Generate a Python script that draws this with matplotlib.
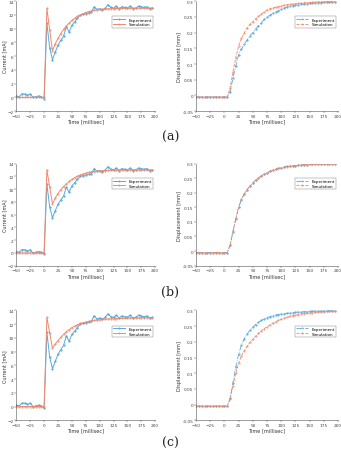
import matplotlib.pyplot as plt

# time samples [ms]
t = [-50, -45, -40, -35, -30, -25, -20, -15, -10, -5, 0, 5, 10, 15, 20, 25, 30, 35, 40, 45,
     50, 55, 60, 65, 70, 75, 80, 85, 90, 95, 100, 105, 110, 115, 120, 125, 130, 135, 140, 145,
     150, 155, 160, 165, 170, 175, 180, 185, 190, 195]

# measured current (same run in all three panels)
cur_exp = [0.2, 0.1, 0.5, 0.5, 0.3, 0.5, 0.0, 0.1, 0.2, 0.1, -0.2, 10.8, 7.2, 5.5, 6.6, 7.6, 8.3, 8.9, 10.3, 9.5,
           10.5, 11.0, 11.5, 12.0, 12.1, 12.2, 12.3, 12.4, 13.2, 12.8, 12.9, 12.7, 13.0, 13.5, 13.1, 13.0, 13.3, 12.9, 13.2, 13.1,
           13.0, 13.3, 12.9, 13.0, 13.3, 13.2, 13.1, 13.2, 12.9, 13.0]

cur_sim_a = [0, 0, 0, 0, 0, 0, 0, 0, 0, 0, 0, 13.0, 9.8, 6.8, 7.8, 8.6, 9.3, 9.9, 10.4, 10.8,
             11.2, 11.5, 11.8, 12.0, 12.2, 12.35, 12.5, 12.6, 12.7, 12.75, 12.8, 12.85, 12.88, 12.9, 12.92, 12.94, 12.95, 12.96, 12.97, 12.98,
             12.98, 12.99, 12.99, 13.0, 13.0, 13.0, 13.0, 13.0, 13.0, 13.0]
cur_sim_b = [0, 0, 0, 0, 0, 0, 0, 0, 0, 0, 0, 13.0, 10.3, 7.7, 8.6, 9.3, 9.9, 10.4, 10.8, 11.2,
             11.5, 11.8, 12.0, 12.2, 12.35, 12.5, 12.6, 12.7, 12.75, 12.8, 12.85, 12.88, 12.9, 12.92, 12.94, 12.95, 12.96, 12.97, 12.98, 12.98,
             12.99, 12.99, 13.0, 13.0, 13.0, 13.0, 13.0, 13.0, 13.0, 13.0]
cur_sim_c = [0, 0, 0, 0, 0, 0, 0, 0, 0, 0, 0, 13.0, 10.7, 8.5, 9.1, 9.6, 10.1, 10.5, 10.9, 11.2,
             11.5, 11.7, 11.9, 12.1, 12.2, 12.3, 12.4, 12.5, 12.55, 12.6, 12.65, 12.7, 12.73, 12.76, 12.78, 12.8, 12.82, 12.84, 12.86, 12.87,
             12.88, 12.89, 12.9, 12.91, 12.92, 12.93, 12.94, 12.95, 12.95, 12.96]

pre = [-0.005] * 11
disp_exp_a = pre + [-0.005, 0.012, 0.055, 0.095, 0.13, 0.148, 0.163, 0.177, 0.19,
                    0.20, 0.212, 0.222, 0.232, 0.242, 0.25, 0.255, 0.261, 0.266, 0.27, 0.274, 0.278, 0.281, 0.284, 0.286, 0.287,
                    0.289, 0.29, 0.291, 0.292, 0.293, 0.294, 0.295, 0.296, 0.296, 0.297, 0.297, 0.297, 0.298, 0.298]
disp_sim_a = pre + [-0.005, 0.025, 0.075, 0.12, 0.158, 0.182, 0.2, 0.215, 0.226,
                    0.235, 0.244, 0.252, 0.259, 0.266, 0.272, 0.276, 0.279, 0.281, 0.283, 0.285, 0.287, 0.289, 0.29, 0.291, 0.292,
                    0.293, 0.294, 0.295, 0.296, 0.296, 0.297, 0.297, 0.298, 0.298, 0.298, 0.299, 0.299, 0.299, 0.299]
disp_exp_b = pre + [-0.005, 0.02, 0.066, 0.11, 0.15, 0.176, 0.196, 0.211, 0.223,
                    0.233, 0.243, 0.251, 0.258, 0.264, 0.268, 0.273, 0.277, 0.28, 0.283, 0.286, 0.288, 0.29, 0.291, 0.292, 0.293,
                    0.294, 0.295, 0.296, 0.296, 0.297, 0.297, 0.298, 0.298, 0.298, 0.298, 0.299, 0.299, 0.299, 0.299]
disp_sim_b = pre + [-0.005, 0.022, 0.068, 0.112, 0.151, 0.177, 0.196, 0.211, 0.223,
                    0.233, 0.243, 0.251, 0.258, 0.263, 0.268, 0.273, 0.277, 0.28, 0.283, 0.285, 0.287, 0.289, 0.291, 0.292, 0.293,
                    0.294, 0.295, 0.296, 0.296, 0.297, 0.297, 0.298, 0.298, 0.298, 0.298, 0.299, 0.299, 0.299, 0.299]
disp_exp_c = pre + [-0.005, 0.02, 0.07, 0.12, 0.16, 0.19, 0.21, 0.225, 0.237,
                    0.247, 0.255, 0.262, 0.268, 0.273, 0.277, 0.28, 0.283, 0.285, 0.287, 0.289, 0.29, 0.291, 0.292, 0.293, 0.294,
                    0.295, 0.295, 0.296, 0.296, 0.297, 0.297, 0.298, 0.298, 0.298, 0.298, 0.299, 0.299, 0.299, 0.299]
disp_sim_c = pre + [-0.005, 0.018, 0.06, 0.1, 0.132, 0.155, 0.172, 0.186, 0.198,
                    0.208, 0.218, 0.227, 0.235, 0.242, 0.248, 0.254, 0.259, 0.264, 0.268, 0.272, 0.275, 0.278, 0.281, 0.283, 0.285,
                    0.287, 0.289, 0.29, 0.291, 0.292, 0.293, 0.294, 0.295, 0.296, 0.296, 0.297, 0.297, 0.298, 0.298]

cur_sims = [cur_sim_a, cur_sim_b, cur_sim_c]
disp_exps = [disp_exp_a, disp_exp_b, disp_exp_c]
disp_sims = [disp_sim_a, disp_sim_b, disp_sim_c]
panel_labels = ['(a)', '(b)', '(c)']
cur_xmax = [197, 200, 197]

C_EXP = '#5aa9dc'
C_SIM = '#ee8a6c'

fig = plt.figure(figsize=(3.41, 4.52), dpi=100)

# [bottom, top] of each row in figure fraction, and y of the panel letter
rows = [(0.752, 0.995), (0.410, 0.636), (0.068, 0.311)]
label_y = [0.697, 0.352, 0.020]


def style_axes(ax):
    for s in ('top', 'right'):
        ax.spines[s].set_visible(False)
    for s in ('left', 'bottom'):
        ax.spines[s].set_linewidth(0.4)
        ax.spines[s].set_color('#555555')
    ax.tick_params(labelsize=3.1, width=0.3, length=1.2, pad=0.6, colors='#444444')


def add_legend(ax):
    leg = ax.legend(loc='upper right', bbox_to_anchor=(1.0, 0.88), fontsize=2.9, handlelength=3,
                    borderpad=0.3, labelspacing=0.2, fancybox=False, edgecolor='#777777',
                    framealpha=1, markerscale=0.7)
    leg.get_frame().set_linewidth(0.3)


for i in range(3):
    b, tp = rows[i]

    # current
    ax = fig.add_axes([0.048, b, 0.407, tp - b])
    ax.plot(t, cur_exp, '-', marker='.', ms=1.2, lw=0.7, color=C_EXP, label='Experiment')
    ax.plot(t, cur_sims[i], '-', marker='.', ms=0.9, lw=0.7, color=C_SIM, label='Simulation')
    ax.set_xlim(-50, cur_xmax[i])
    ax.set_ylim(-2, 14)
    ax.set_xticks(range(-50, 201, 25))
    ax.set_yticks(range(-2, 15, 2))
    ax.set_xlabel('Time [millisec]', fontsize=3.6, labelpad=0.6, color='#333333')
    ax.set_ylabel('Current [mA]', fontsize=3.6, labelpad=0.4, color='#333333')
    style_axes(ax)
    add_legend(ax)

    # displacement
    ax = fig.add_axes([0.575, b, 0.416, tp - b])
    ax.plot(t, disp_exps[i], '-.', marker='.', ms=1.1, lw=0.6, color=C_EXP, label='Experiment')
    ax.plot(t, disp_sims[i], '--', marker='.', ms=0.9, lw=0.6, color=C_SIM, label='Simulation')
    ax.set_xlim(-50, 200)
    ax.set_ylim(-0.05, 0.3)
    ax.set_xticks(range(-50, 201, 25))
    ax.set_yticks([-0.05, 0, 0.05, 0.1, 0.15, 0.2, 0.25, 0.3])
    ax.set_yticklabels(['-0.05', '0', '0.05', '0.1', '0.15', '0.2', '0.25', '0.3'])
    ax.set_xlabel('Time [millisec]', fontsize=3.6, labelpad=0.6, color='#333333')
    ax.set_ylabel('Displacement [mm]', fontsize=3.6, labelpad=0.6, color='#333333')
    style_axes(ax)
    add_legend(ax)

    fig.text(0.5, label_y[i], panel_labels[i], ha='center', va='center',
             fontsize=9, family='DejaVu Serif', color='#222222')

fig.savefig('out.png', dpi=100)
